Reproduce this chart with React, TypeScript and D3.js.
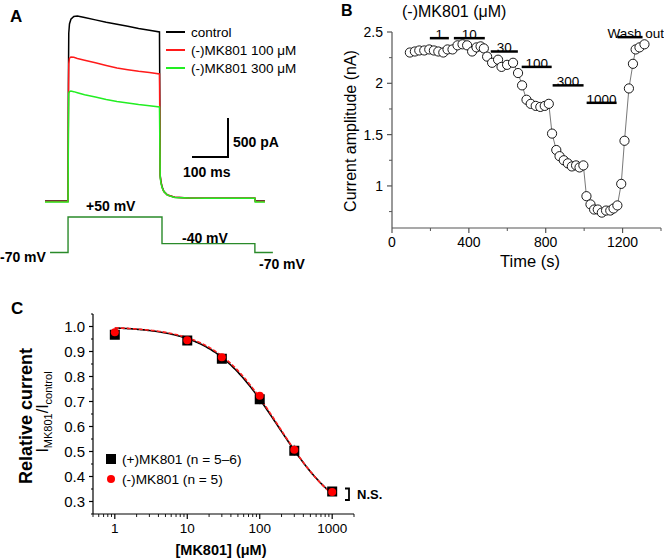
import React from "react";
import * as d3 from "d3";

const FONT = "'Liberation Sans', Arial, Helvetica, sans-serif";
const MU = "\u03bc";

// ---------- Panel A : current traces (ms, pA) ----------
const traceTime = [0, 64, 65, 66, 68, 72, 80, 90, 110, 140, 170, 200, 230, 260, 290, 318, 320, 322, 325, 330, 340, 360, 400, 450, 500, 583, 584, 611];
const controlTrace = [0, 0, 1500, 2150, 2270, 2330, 2365, 2372, 2352, 2322, 2292, 2266, 2240, 2212, 2190, 2167, 330, 250, 185, 125, 78, 48, 38, 35, 35, 35, 0, 0];
const mk100Trace = [-8, -8, 1100, 1760, 1830, 1846, 1842, 1828, 1805, 1772, 1738, 1705, 1683, 1662, 1646, 1628, 320, 245, 180, 122, 76, 47, 38, 35, 35, 35, -5, -5];
const mk300Trace = [-12, -12, 850, 1380, 1402, 1410, 1402, 1388, 1362, 1332, 1302, 1277, 1256, 1236, 1220, 1205, 300, 235, 175, 120, 75, 46, 38, 35, 35, 35, -12, -12];
const traceNames = ["control", `(-)MK801 100 ${MU}M`, `(-)MK801 300 ${MU}M`];
const traceColors = ["#000000", "#ff1a1a", "#22ee22"];
const voltTime = [14, 64, 64, 325, 325, 583, 583, 633];
const voltLevel = [-70, -70, 50, 50, -40, -40, -70, -70];

// ---------- Panel B : time course ----------
const bTime = [93, 119, 142, 168, 194, 218, 241, 267, 289, 315, 341, 367, 391, 417, 440, 461, 478, 495, 521, 552, 570, 599, 630, 656, 677, 700, 722, 748, 772, 795, 816, 833, 855, 872, 894, 915, 936, 958, 976, 996, 1012, 1033, 1052, 1071, 1092, 1114, 1136, 1153, 1173, 1193, 1210, 1233, 1254, 1268, 1288, 1314];
const bCurrent = [2.30, 2.31, 2.32, 2.32, 2.33, 2.32, 2.31, 2.30, 2.33, 2.33, 2.37, 2.38, 2.37, 2.31, 2.35, 2.36, 2.34, 2.26, 2.20, 2.23, 2.16, 2.18, 2.20, 2.10, 1.98, 1.84, 1.80, 1.78, 1.77, 1.78, 1.80, 1.51, 1.35, 1.29, 1.25, 1.22, 1.19, 1.20, 1.18, 1.20, 0.90, 0.82, 0.77, 0.77, 0.74, 0.76, 0.76, 0.78, 0.81, 1.02, 1.44, 1.95, 2.19, 2.33, 2.35, 2.38];
const barLabels = ["1", "10", "30", "100", "300", "1000", "Wash out"];
const barStart = [197, 322, 514, 675, 836, 1013, 1174];
const barEnd = [296, 483, 655, 831, 997, 1169, 1304];
const barLevel = [2.44, 2.44, 2.31, 2.16, 1.98, 1.81, 2.45];
const bXTicks = [0, 400, 800, 1200];
const bXMinor = [200, 600, 1000, 1400];
const bYTicks = [1, 1.5, 2, 2.5];
const bYMinor = [0.75, 1.25, 1.75, 2.25];

// ---------- Panel C : concentration-response ----------
const conc = [1, 10, 30, 100, 300, 1000];
const plusMean = [0.967, 0.944, 0.871, 0.709, 0.503, 0.340];
const plusErr = [0.010, 0.008, 0.010, 0.020, 0.020, 0.010];
const minusMean = [0.977, 0.945, 0.877, 0.723, 0.507, 0.338];
const minusErr = [0.008, 0.008, 0.010, 0.015, 0.020, 0.010];
const plusFit = [0.2, 180, 0.95]; // bottom, IC50, Hill
const minusFit = [0.2, 184, 0.97];
const cXTicks = [1, 10, 100, 1000];
const cYTicks = [0.3, 0.4, 0.5, 0.6, 0.7, 0.8, 0.9, 1.0];

export default function App() {
  // Panel A scales
  const xA = d3.scaleLinear().domain([0, 100]).range([45, 81]);
  const yA = d3.scaleLinear().domain([0, 500]).range([201, 162]);
  const yV = d3.scaleLinear().domain([-70, 50]).range([252.5, 217]);
  const traceLine = d3.line<number>().x((_, i) => xA(traceTime[i])).y((d) => yA(d));
  const voltLine = d3.line<number>().x((_, i) => xA(voltTime[i])).y((d) => yV(d));
  const traces = [controlTrace, mk100Trace, mk300Trace];

  // Panel B scales
  const xB = d3.scaleLinear().domain([0, 1400]).range([392, 661]);
  const yB = d3.scaleLinear().domain([0.59, 2.5]).range([228, 32]);
  const bLine = d3.line<number>().x((_, i) => xB(bTime[i])).y((d) => yB(d));

  // Panel C scales
  const xC = d3.scaleLog().domain([0.5, 2000]).range([93, 354]);
  const yC = d3.scaleLinear().domain([0.25, 1.05]).range([514, 314]);
  const hill = (p: number[]) => (x: number) => p[0] + (1 - p[0]) / (1 + Math.pow(x / p[1], p[2]));
  const fitX = d3.range(0, 3.001, 0.02).map((e) => Math.pow(10, e));
  const fitLine = (p: number[]) =>
    d3.line<number>().x((d) => xC(d)).y((d) => yC(hill(p)(d)))(fitX) || "";
  const cMinor: number[] = [];
  [0.1, 1, 10, 100, 1000].forEach((dec) => {
    for (let k = 2; k <= 9; k++) {
      const v = dec * k;
      if (v >= 0.5 && v <= 2000) cMinor.push(v);
    }
  });
  const cYMinor = d3.range(0.25, 1.051, 0.05).filter((v) => Math.abs(Math.round(v * 10) - v * 10) > 0.01);

  return (
    <svg width={664} height={560} style={{ position: "absolute", left: 0, top: 0, background: "#fff" }} fontFamily={FONT}>
      {/* ================= Panel A ================= */}
      <text x={10} y={22} fontSize={17} fontWeight="bold">A</text>
      {traces.map((tr, i) => (
        <path key={i} d={traceLine(tr) || ""} fill="none" stroke={traceColors[i]} strokeWidth={1.5} />
      ))}
      {traceNames.map((n, i) => (
        <g key={n}>
          <line x1={166} x2={185} y1={32 + i * 18} y2={32 + i * 18} stroke={traceColors[i]} strokeWidth={2} />
          <text x={191} y={37 + i * 18} fontSize={13.5}>{n}</text>
        </g>
      ))}
      {/* scale bar */}
      <path
        d={`M${xA(0) + 147},${yA(0) - 44} H${xA(100) + 147} V${yA(500) - 44}`}
        fill="none" stroke="#000" strokeWidth={2}
      />
      <text x={233} y={147} fontSize={14} fontWeight="bold">500 pA</text>
      <text x={183} y={177} fontSize={14} fontWeight="bold">100 ms</text>
      {/* voltage protocol */}
      <path d={voltLine(voltLevel) || ""} fill="none" stroke="#2a8a2a" strokeWidth={1.4} />
      <text x={0} y={262} fontSize={14} fontWeight="bold">-70 mV</text>
      <text x={86} y={211} fontSize={14} fontWeight="bold">+50 mV</text>
      <text x={182} y={243} fontSize={14} fontWeight="bold">-40 mV</text>
      <text x={259} y={269} fontSize={14} fontWeight="bold">-70 mV</text>

      {/* ================= Panel B ================= */}
      <text x={341} y={16} fontSize={16} fontWeight="bold">B</text>
      <text x={402} y={17} fontSize={16}>{`(-)MK801 (${MU}M)`}</text>
      {/* axes */}
      <line x1={xB(0)} x2={xB(0)} y1={yB(0.59)} y2={yB(2.5)} stroke="#555" strokeWidth={1.2} />
      <line x1={xB(0)} x2={xB(1400)} y1={yB(0.59)} y2={yB(0.59)} stroke="#555" strokeWidth={1.2} />
      {bYTicks.map((v) => (
        <g key={v}>
          <line x1={xB(0) - 5} x2={xB(0)} y1={yB(v)} y2={yB(v)} stroke="#555" strokeWidth={1.2} />
          <text x={383} y={yB(v) + 5} fontSize={14} textAnchor="end">{String(v)}</text>
        </g>
      ))}
      {bYMinor.map((v) => (
        <line key={v} x1={xB(0) - 3} x2={xB(0)} y1={yB(v)} y2={yB(v)} stroke="#555" strokeWidth={1} />
      ))}
      {bXTicks.map((v) => (
        <g key={v}>
          <line x1={xB(v)} x2={xB(v)} y1={yB(0.59)} y2={yB(0.59) + 5} stroke="#555" strokeWidth={1.2} />
          <text x={xB(v)} y={247} fontSize={14} textAnchor="middle">{String(v)}</text>
        </g>
      ))}
      {bXMinor.map((v) => (
        <line key={v} x1={xB(v)} x2={xB(v)} y1={yB(0.59)} y2={yB(0.59) + 3} stroke="#555" strokeWidth={1} />
      ))}
      <text x={530} y={267} fontSize={16.5} textAnchor="middle">Time (s)</text>
      <text transform="translate(356,131) rotate(-90)" fontSize={16} textAnchor="middle">Current amplitude (nA)</text>
      {/* drug bars */}
      {barLabels.map((l, i) => (
        <g key={l}>
          <line x1={xB(barStart[i])} x2={xB(barEnd[i])} y1={yB(barLevel[i])} y2={yB(barLevel[i])} stroke="#000" strokeWidth={2.5} />
          {i < barLabels.length - 1 ? (
            <text x={(xB(barStart[i]) + xB(barEnd[i])) / 2} y={yB(barLevel[i]) + 1} fontSize={13.5} textAnchor="middle">{l}</text>
          ) : (
            <text x={664} y={yB(barLevel[i]) + 1} fontSize={13.5} textAnchor="end">{l}</text>
          )}
        </g>
      ))}
      <path d={bLine(bCurrent) || ""} fill="none" stroke="#555" strokeWidth={0.8} />
      {bCurrent.map((v, i) => (
        <circle key={i} cx={xB(bTime[i])} cy={yB(v)} r={4.6} fill="#fff" stroke="#000" strokeWidth={0.9} />
      ))}

      {/* ================= Panel C ================= */}
      <text x={11} y={314} fontSize={17} fontWeight="bold">C</text>
      <line x1={93} x2={93} y1={yC(0.25)} y2={yC(1.05)} stroke="#000" strokeWidth={1.2} />
      <line x1={93} x2={354} y1={yC(0.25)} y2={yC(0.25)} stroke="#000" strokeWidth={1.2} />
      {cYTicks.map((v) => (
        <g key={v}>
          <line x1={89} x2={93} y1={yC(v)} y2={yC(v)} stroke="#000" strokeWidth={1.2} />
          <text x={85} y={yC(v) + 5} fontSize={15} textAnchor="end">{v.toFixed(1)}</text>
        </g>
      ))}
      {cYMinor.map((v) => (
        <line key={v} x1={91} x2={93} y1={yC(v)} y2={yC(v)} stroke="#000" strokeWidth={1} />
      ))}
      {cXTicks.map((v) => (
        <g key={v}>
          <line x1={xC(v)} x2={xC(v)} y1={514} y2={519} stroke="#000" strokeWidth={1.2} />
          <text x={xC(v)} y={533} fontSize={13.5} textAnchor="middle">{String(v)}</text>
        </g>
      ))}
      {cMinor.map((v) => (
        <line key={v} x1={xC(v)} x2={xC(v)} y1={514} y2={517} stroke="#000" strokeWidth={0.9} />
      ))}
      <text x={221} y={555} fontSize={14.5} fontWeight="bold" textAnchor="middle">{`[MK801] (${MU}M)`}</text>
      <text transform="translate(32,416) rotate(-90)" fontSize={18} fontWeight="bold" textAnchor="middle">Relative current</text>
      <text transform="translate(48,412) rotate(-90)" fontSize={16} textAnchor="middle">
        <tspan>I</tspan>
        <tspan fontSize={11} dy={4}>MK801</tspan>
        <tspan dy={-4}>/I</tspan>
        <tspan fontSize={11} dy={4}>control</tspan>
      </text>
      {/* error bars */}
      {conc.map((c, i) => (
        <g key={"e" + c}>
          <line x1={xC(c)} x2={xC(c)} y1={yC(plusMean[i] - plusErr[i])} y2={yC(plusMean[i] + plusErr[i])} stroke="#777" strokeWidth={1} />
          <line x1={xC(c)} x2={xC(c)} y1={yC(minusMean[i] - minusErr[i])} y2={yC(minusMean[i] + minusErr[i])} stroke="#999" strokeWidth={1} />
        </g>
      ))}
      <path d={fitLine(plusFit)} fill="none" stroke="#000" strokeWidth={1.6} />
      <path d={fitLine(minusFit)} fill="none" stroke="#ff2020" strokeWidth={1.6} strokeDasharray="4,2" />
      {conc.map((c, i) => (
        <rect key={"s" + c} x={xC(c) - 5} y={yC(plusMean[i]) - 5} width={10} height={10} fill="#000" />
      ))}
      {conc.map((c, i) => (
        <circle key={"c" + c} cx={xC(c)} cy={yC(minusMean[i])} r={4} fill="#ff0000" />
      ))}
      {/* legend */}
      <rect x={106} y={454} width={10} height={10} fill="#000" />
      <text x={122} y={464} fontSize={13.7}>{"(+)MK801 (n = 5\u20136)"}</text>
      <circle cx={111} cy={479} r={4} fill="#ff0000" />
      <text x={122} y={484} fontSize={13.7}>(-)MK801 (n = 5)</text>
      {/* N.S. */}
      <path d="M345,488.5 H349 V500 H345" fill="none" stroke="#000" strokeWidth={1.8} />
      <text x={357} y={499} fontSize={13} fontWeight="bold">N.S.</text>
    </svg>
  );
}
